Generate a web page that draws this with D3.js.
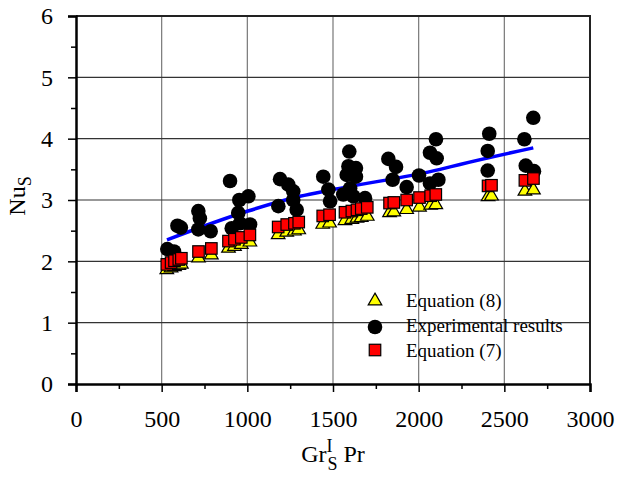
<!DOCTYPE html>
<html>
<head>
<meta charset="utf-8">
<script src="https://cdn.jsdelivr.net/npm/d3@7"></script>
<style>
  body { margin: 0; background: #fff; }
</style>
</head>
<body>
<div id="chart"></div>
<script>
// values
const experimental = [
  [533, 2.20], [572, 2.16], [592, 2.58], [612, 2.55],
  [714, 2.82], [723, 2.70], [714, 2.52], [786, 2.49],
  [899, 3.31], [953, 3.00], [1006, 3.06], [947, 2.79], [909, 2.54], [957, 2.62], [1016, 2.60],
  [1191, 3.34], [1239, 3.25], [1268, 3.14], [1181, 2.90], [1288, 2.84], [1268, 3.00],
  [1443, 3.38], [1473, 3.17], [1483, 2.98],
  [1595, 3.79], [1590, 3.55], [1634, 3.52], [1580, 3.41], [1634, 3.38], [1600, 3.19],
  [1560, 3.09], [1619, 3.06], [1687, 3.03],
  [1823, 3.67], [1868, 3.54], [1848, 3.33], [1930, 3.21], [2002, 3.40],
  [2101, 3.99], [2066, 3.77], [2105, 3.68], [2115, 3.33], [2066, 3.27],
  [2412, 4.08], [2403, 3.80], [2403, 3.48],
  [2669, 4.34], [2617, 3.99], [2625, 3.56], [2673, 3.47]
]

const equation7 = [
  [530, 1.95], [555, 1.98], [575, 2.01], [600, 2.03], [615, 2.05], [715, 2.16], [790, 2.21],
  [890, 2.33], [925, 2.36], [965, 2.39], [1015, 2.43], [1180, 2.56], [1230, 2.60], [1275, 2.62],
  [1300, 2.64], [1440, 2.74], [1480, 2.76], [1570, 2.80], [1610, 2.82], [1640, 2.84], [1665, 2.86],
  [1700, 2.88], [1830, 2.95], [1855, 2.96], [1930, 3.00], [2005, 3.04], [2070, 3.07], [2100, 3.09],
  [2405, 3.23], [2425, 3.24], [2620, 3.32], [2670, 3.35]
]

const equation8 = [
  [530, 1.88], [555, 1.91], [575, 1.93], [600, 1.95], [615, 1.97], [715, 2.07], [790, 2.12],
  [890, 2.23], [925, 2.26], [965, 2.29], [1015, 2.33], [1180, 2.45], [1230, 2.49], [1275, 2.51],
  [1300, 2.53], [1440, 2.62], [1480, 2.64], [1570, 2.68], [1610, 2.70], [1640, 2.72], [1665, 2.73],
  [1700, 2.75], [1830, 2.81], [1855, 2.82], [1930, 2.86], [2005, 2.90], [2070, 2.93], [2100, 2.94],
  [2405, 3.07], [2425, 3.08], [2620, 3.16], [2670, 3.18]
]

const fitLine = [
  [531, 2.35], [1004, 2.82], [1307, 3.06], [1500, 3.17], [2125, 3.50], [2241, 3.58], [2669, 3.85]
]

const xTicks = [0, 500, 1000, 1500, 2000, 2500, 3000]
const yTicks = [0, 1, 2, 3, 4, 5, 6]

const legendItems = ['Equation (8)', 'Experimental results', 'Equation (7)']

const serif = '"Liberation Serif"'

const margin = { top: 16, left: 76, right: 28, bottom: 95 }
const width = 618 - margin.left - margin.right
const height = 479 - margin.top - margin.bottom

const svg = d3
  .select('#chart')
  .append('svg')
  .attr('width', 618)
  .attr('height', 479)
  .append('g')
  .attr('transform', 'translate(' + margin.left + ',' + margin.top + ')')

const xPositionScale = d3.scaleLinear().domain([0, 3000]).range([0, width])
const yPositionScale = d3.scaleLinear().domain([0, 6]).range([height, 0])

// grid
svg
  .selectAll('.vgrid')
  .data(xTicks.slice(1, -1))
  .enter()
  .append('line')
  .attr('x1', d => xPositionScale(d))
  .attr('x2', d => xPositionScale(d))
  .attr('y1', 0)
  .attr('y2', height)
  .attr('stroke', '#777')
  .attr('stroke-width', 1.2)

svg
  .selectAll('.hgrid')
  .data(yTicks.slice(1, -1))
  .enter()
  .append('line')
  .attr('x1', 0)
  .attr('x2', width)
  .attr('y1', d => yPositionScale(d))
  .attr('y2', d => yPositionScale(d))
  .attr('stroke', '#333')
  .attr('stroke-width', 1.2)

// top + right frame
svg
  .append('path')
  .attr('d', 'M0,0H' + width + 'V' + height)
  .attr('fill', 'none')
  .attr('stroke', '#222')
  .attr('stroke-width', 2)

// axes
const xAxis = d3
  .axisBottom(xPositionScale)
  .tickValues(xTicks)
  .tickSize(8)
  .tickPadding(18)
  .tickFormat(d3.format('d'))

svg
  .append('g')
  .attr('class', 'axis x-axis')
  .attr('transform', 'translate(0,' + height + ')')
  .call(xAxis)

const xMinor = d3
  .axisBottom(xPositionScale)
  .tickValues(d3.range(250, 3000, 500))
  .tickSize(5)
  .tickFormat('')

svg
  .append('g')
  .attr('class', 'axis x-minor')
  .attr('transform', 'translate(0,' + height + ')')
  .call(xMinor)

const yAxis = d3
  .axisLeft(yPositionScale)
  .tickValues(yTicks)
  .tickSize(8)
  .tickPadding(15)
  .tickFormat(d3.format('d'))

svg
  .append('g')
  .attr('class', 'axis y-axis')
  .call(yAxis)

const yMinor = d3
  .axisLeft(yPositionScale)
  .tickValues(d3.range(0.5, 6, 1))
  .tickSize(5)
  .tickFormat('')

svg
  .append('g')
  .attr('class', 'axis y-minor')
  .call(yMinor)

svg.selectAll('.axis').attr('font-family', null).attr('font-size', null)
svg.selectAll('.axis path').attr('stroke', '#000').attr('stroke-width', 2.5)
svg.selectAll('.x-minor path, .y-minor path').remove()
svg.selectAll('.axis line').attr('stroke', '#000').attr('stroke-width', 1.5)
svg
  .selectAll('.axis text')
  .style('font-family', serif)
  .style('font-size', '24px')
  .attr('fill', '#000')

// fit line
const line = d3
  .line()
  .x(d => xPositionScale(d[0]))
  .y(d => yPositionScale(d[1]))
  .curve(d3.curveMonotoneX)

svg
  .append('path')
  .datum(fitLine)
  .attr('d', line)
  .attr('fill', 'none')
  .attr('stroke', '#0000ff')
  .attr('stroke-width', 3.5)

// markers
const tri = d3.symbol().type(d3.symbolTriangle).size(80)

svg
  .selectAll('.exp')
  .data(experimental)
  .enter()
  .append('circle')
  .attr('class', 'exp')
  .attr('cx', d => xPositionScale(d[0]))
  .attr('cy', d => yPositionScale(d[1]))
  .attr('r', 7.3)
  .attr('fill', '#000')

svg
  .selectAll('.eq8')
  .data(equation8)
  .enter()
  .append('path')
  .attr('class', 'eq8')
  .attr('d', tri)
  .attr('transform', d => 'translate(' + xPositionScale(d[0]) + ',' + (yPositionScale(d[1]) + 1) + ')')
  .attr('fill', '#ffff00')
  .attr('stroke', '#000')
  .attr('stroke-width', 1.2)

svg
  .selectAll('.eq7')
  .data(equation7)
  .enter()
  .append('rect')
  .attr('class', 'eq7')
  .attr('x', d => xPositionScale(d[0]) - 5.75)
  .attr('y', d => yPositionScale(d[1]) - 5.75)
  .attr('width', 11.5)
  .attr('height', 11.5)
  .attr('fill', '#ff0000')
  .attr('stroke', '#000')
  .attr('stroke-width', 1.2)

// legend
const legend = svg.append('g').attr('transform', 'translate(299,285)')

legend
  .append('path')
  .attr('d', tri)
  .attr('transform', 'translate(0,0)')
  .attr('fill', '#ffff00')
  .attr('stroke', '#000')
  .attr('stroke-width', 1.2)

legend
  .append('circle')
  .attr('cx', 0)
  .attr('cy', 26)
  .attr('r', 7.3)
  .attr('fill', '#000')

legend
  .append('rect')
  .attr('x', -5.75)
  .attr('y', 43.25)
  .attr('width', 11.5)
  .attr('height', 11.5)
  .attr('fill', '#ff0000')
  .attr('stroke', '#000')
  .attr('stroke-width', 1.2)

legend
  .selectAll('.leg-text')
  .data(legendItems)
  .enter()
  .append('text')
  .attr('x', 31)
  .attr('y', (d, i) => 6 + i * 25)
  .style('font-family', serif)
  .style('font-size', '19px')
  .text(d => d)

// axis titles
const xTitle = svg
  .append('text')
  .attr('x', width / 2)
  .attr('y', height + 78)
  .attr('text-anchor', 'middle')
  .style('font-family', serif)
  .style('font-size', '24px')

xTitle.append('tspan').text('Gr')
xTitle.append('tspan').attr('dy', -10).style('font-size', '18px').text('I')
xTitle.append('tspan').attr('dx', -5).attr('dy', 18).style('font-size', '18px').text('S')
xTitle.append('tspan').attr('dy', -8).text(' Pr')

const yTitle = svg
  .append('text')
  .attr('transform', 'translate(-51,' + (height / 2 - 4) + ') rotate(-90)')
  .attr('text-anchor', 'middle')
  .style('font-family', serif)
  .style('font-size', '24px')

yTitle.append('tspan').text('Nu')
yTitle.append('tspan').attr('dy', 6).style('font-size', '18px').text('S')
</script>
</body>
</html>
